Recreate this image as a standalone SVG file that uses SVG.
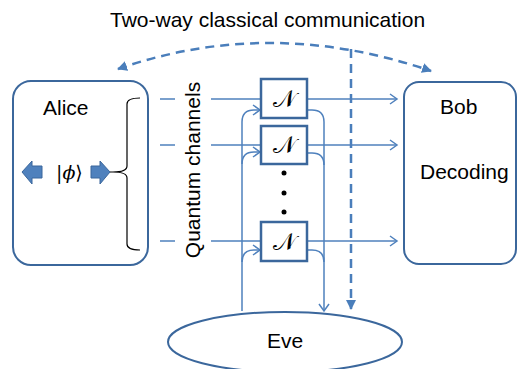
<svg xmlns="http://www.w3.org/2000/svg" width="518" height="369" viewBox="0 0 518 369">
<defs>
<style>
.lbl{font-family:"Liberation Sans",Arial,sans-serif;font-size:21px;fill:#000}
.box{fill:#fff;stroke:#3b679c;stroke-width:2}
.nbox{fill:#fff;stroke:#3b679c;stroke-width:2.5}
.ln{fill:none;stroke:#4f81bd;stroke-width:1.5}
.dash{fill:none;stroke:#4a7ebb;stroke-width:2.5;stroke-dasharray:9 6}
.blk{fill:#4f81bd;stroke:#3b679c;stroke-width:1}
.nsym{font-family:"DejaVu Serif","Liberation Serif",serif;font-size:24px}
</style>
<marker id="open" markerWidth="10" markerHeight="12" refX="8" refY="6" orient="auto" markerUnits="userSpaceOnUse">
<path d="M1,1 L8,6 L1,11" fill="none" stroke="#4f81bd" stroke-width="1.5"/>
</marker>
<marker id="tri" markerWidth="12" markerHeight="12" refX="9" refY="6" orient="auto-start-reverse" markerUnits="userSpaceOnUse">
<path d="M0,1 L10,6 L0,11 Z" fill="#4a7ebb"/>
</marker>
</defs>
<text class="lbl" x="110" y="27">Two-way classical communication</text>
<g id="connectors">
<path class="dash" d="M 118 69 Q 270 16 431 71" marker-start="url(#tri)" marker-end="url(#tri)"/>
<path class="dash" d="M 351 49 L 351 309" marker-end="url(#tri)"/>
<path class="ln" d="M 160 99 L 175 99 M 211 99 L 261 99"/>
<path class="ln" d="M 307 99 L 397 99" marker-end="url(#open)"/>
<path class="ln" d="M 160 145 L 175 145 M 211 145 L 261 145"/>
<path class="ln" d="M 307 145 L 397 145" marker-end="url(#open)"/>
<path class="ln" d="M 160 241 L 175 241 M 211 241 L 261 241"/>
<path class="ln" d="M 307 241 L 397 241" marker-end="url(#open)"/>
<path class="ln" d="M 242 311 L 242 122 Q 242 110 254 110 L 260 110" marker-end="url(#open)"/>
<path class="ln" d="M 242 164 Q 242 152 254 152 L 260 152" marker-end="url(#open)"/>
<path class="ln" d="M 242 262 Q 242 250 254 250 L 260 250" marker-end="url(#open)"/>
<path class="ln" d="M 307 110 L 312 110 Q 324 110 324 122 L 324 311" marker-end="url(#open)"/>
<path class="ln" d="M 307 153 L 312 153 Q 324 153 324 165"/>
<path class="ln" d="M 307 250 L 312 250 Q 324 250 324 262"/>
</g>
<g id="alice">
<rect class="box" x="13" y="81" width="135" height="184" rx="18"/>
<text class="lbl" x="43" y="115">Alice</text>
<polygon class="blk" points="22,172 32,161 32,166 42,166 42,178 32,178 32,184"/>
<polygon class="blk" points="110,172 100,161 100,166 91,166 91,178 100,178 100,184"/>
<text x="56" y="179" font-family="'DejaVu Serif','Liberation Serif',serif" font-size="19">|<tspan font-style="italic">ϕ</tspan>⟩</text>
<path d="M 140 98 Q 127 98 127 104 L 127 166 Q 127 172 113 172 Q 127 172 127 178 L 127 244 Q 127 250 140 250 M 110 172 L 113 172" fill="none" stroke="#000" stroke-width="1.2"/>
</g>
<text class="lbl" transform="translate(200,170) rotate(-90)" text-anchor="middle">Quantum channels</text>
<g id="n1">
<rect class="nbox" x="261" y="79" width="46" height="39"/>
<text class="nsym" x="284" y="107" text-anchor="middle">𝒩</text>
</g>
<g id="n2">
<rect class="nbox" x="261" y="126" width="46" height="38"/>
<text class="nsym" x="284" y="153" text-anchor="middle">𝒩</text>
</g>
<g id="dots">
<circle cx="284" cy="173" r="2.5"/>
<circle cx="284" cy="193" r="2.5"/>
<circle cx="284" cy="212" r="2.5"/>
</g>
<g id="n3">
<rect class="nbox" x="261" y="222" width="46" height="39"/>
<text class="nsym" x="284" y="250" text-anchor="middle">𝒩</text>
</g>
<g id="bob">
<rect class="box" x="404" y="82" width="112" height="182" rx="15"/>
<text class="lbl" x="440" y="114">Bob</text>
<text class="lbl" x="420" y="179">Decoding</text>
</g>
<g id="eve">
<ellipse class="box" cx="285" cy="342" rx="117" ry="30"/>
<text class="lbl" x="285" y="348" text-anchor="middle">Eve</text>
</g>
</svg>
